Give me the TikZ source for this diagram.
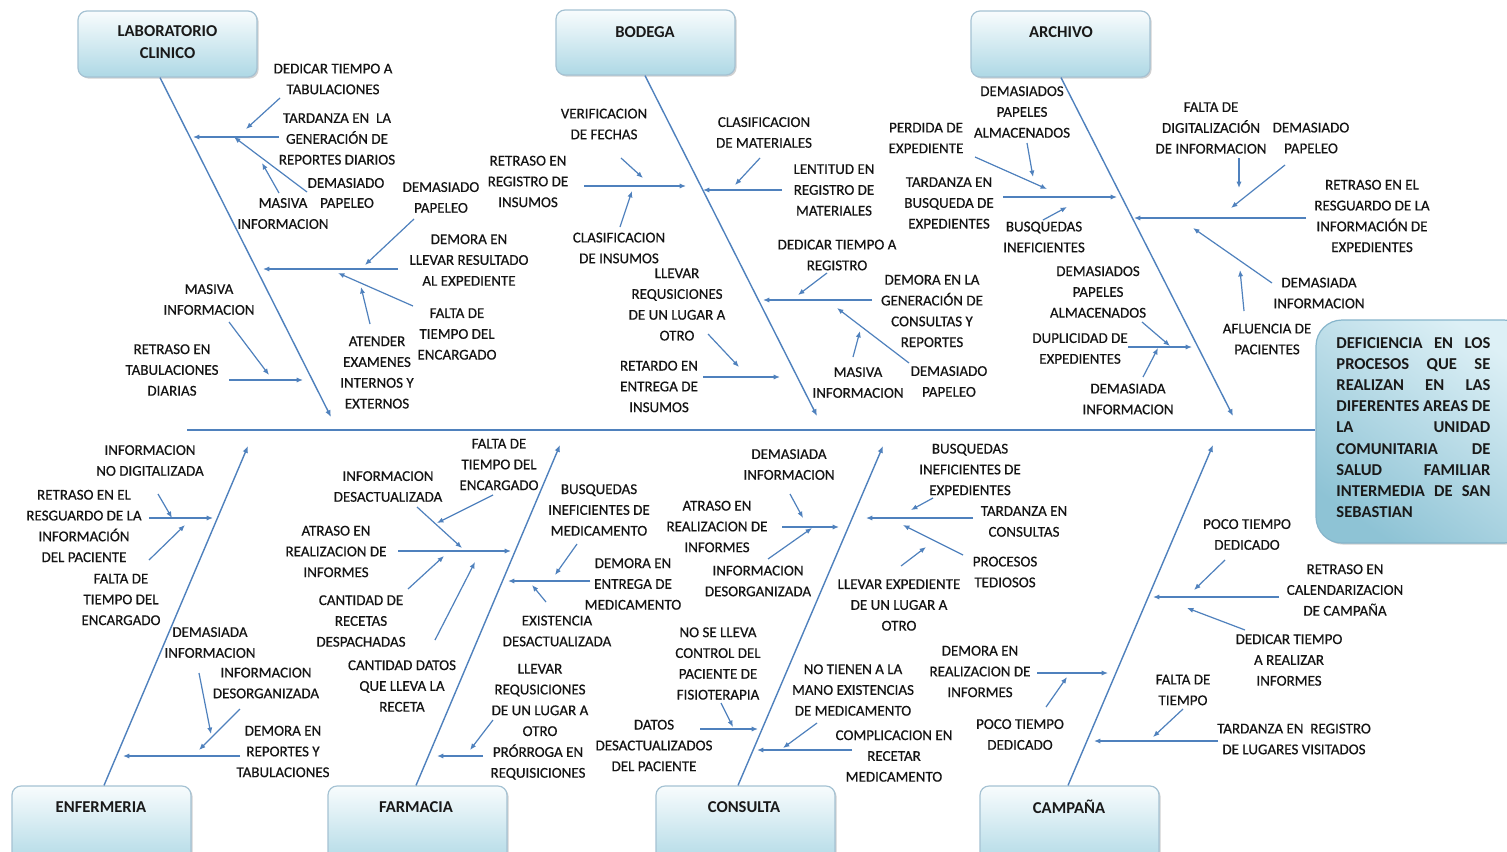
\documentclass[tikz,border=0pt]{standalone}
\usepackage{fontspec}
\setmainfont{Carlito}
\newfontfamily\lblfont[FakeBold=0.45]{Carlito}
\usetikzlibrary{arrows.meta,shadows,calc}
\definecolor{ln}{HTML}{4F81BD}
\definecolor{boxtop}{HTML}{F8FCFD}
\definecolor{boxbot}{HTML}{AED8E5}
\definecolor{boxdraw}{HTML}{A5C2D3}
\definecolor{effL}{HTML}{8EC3D5}
\definecolor{effR}{HTML}{DDF0F6}
\definecolor{effdraw}{HTML}{86B5CB}
\begin{document}
\begin{tikzpicture}[x=0.5pt,y=-0.5pt,
 lbl/.style={font=\lblfont\fontsize{7.5}{10.4}\selectfont, align=center, inner sep=0pt, text=black!92},
 ttl/.style={font=\bfseries\fontsize{8.3}{11}\selectfont, align=center, inner sep=0pt, text=black!90},
 catbox/.style={draw=boxdraw, line width=0.6pt, rounded corners=4.5pt, top color=boxtop, bottom color=boxbot,
   minimum width=89.5pt, inner sep=0pt,
   drop shadow={shadow xshift=0.8pt, shadow yshift=-0.8pt, fill=black!40, opacity=0.45}},
 arr/.style={draw=ln, line width=0.6pt, -{Latex[length=3.2pt,width=2.6pt]}},
 bone/.style={draw=ln, line width=0.7pt, -{Latex[length=3.4pt,width=2.8pt]}},
]
\useasboundingbox (0,0) rectangle (1507,851);
\clip (0,0) rectangle (1507,851);
\fill[white] (0,0) rectangle (1507,851);

% ---------- category boxes ----------
\node[catbox, minimum height=33pt] (lab) at (167.5,44) {};
\node[ttl] (labt) at (167.5,42) {LABORATORIO\\CLINICO};
\node[catbox, minimum height=32.5pt] (bod) at (645.5,42.5) {};
\node[ttl] (bodt) at (645,32) {BODEGA};
\node[catbox, minimum height=33pt] (arc) at (1060.5,44) {};
\node[ttl] (arct) at (1061,32) {ARCHIVO};

\node[catbox, minimum height=40pt] (enf) at (101.5,826) {};
\node[ttl] (enft) at (101,807) {ENFERMERIA};
\node[catbox, minimum height=40pt] (far) at (417.5,826) {};
\node[ttl] (fart) at (416,807) {FARMACIA};
\node[catbox, minimum height=40pt] (con) at (745.5,826) {};
\node[ttl] (cont) at (744,807) {CONSULTA};
\node[catbox, minimum height=40pt] (cam) at (1069.5,826) {};
\node[ttl] (camt) at (1069,807) {CAMPAÑA};

% ---------- effect box ----------
\node[draw=effdraw, line width=0.6pt, rounded corners=13pt, top color=effR, bottom color=effL, shading angle=-35,
  minimum width=107pt, minimum height=111.5pt, inner sep=0pt,
  drop shadow={shadow xshift=0.8pt, shadow yshift=-0.8pt, fill=black!40, opacity=0.45}]
  (effect) at (1423,431.5) {};
\node[font=\bfseries\fontsize{8.3}{10.56}\selectfont, align=left, inner sep=0pt, anchor=west, text=black!90]
  (efftext) at (1336,427.5) {%
  \hbox to 77pt{DEFICIENCIA\hfill EN\hfill LOS}\\
  \hbox to 77pt{PROCESOS\hfill QUE\hfill SE}\\
  \hbox to 77pt{REALIZAN\hfill EN\hfill LAS}\\
  \hbox to 77pt{DIFERENTES\hfill AREAS\hfill DE}\\
  \hbox to 77pt{LA\hfill UNIDAD}\\
  \hbox to 77pt{COMUNITARIA\hfill DE}\\
  \hbox to 77pt{SALUD\hfill FAMILIAR}\\
  \hbox to 77pt{INTERMEDIA\hfill DE\hfill SAN}\\
  \hbox to 77pt{SEBASTIAN\hfill}};

% ---------- spine and bones ----------
\coordinate (spL) at (187,430);
\coordinate (spR) at (1316,430);
\draw[draw=ln, line width=0.8pt] (spL) -- (effect.west |- spR);
\coordinate (labE) at (331,417);
\coordinate (bodE) at (817,416);
\coordinate (arcE) at (1233,416);
\coordinate (enfE) at (248,446);
\coordinate (farE) at (560,445);
\coordinate (conE) at (883,446);
\coordinate (camE) at (1213,445);
\draw[bone] ($(lab.south)+(-7.5,0)$) -- (labE);
\draw[bone] ($(bod.south)+(-0.5,0)$) -- (bodE);
\draw[bone] ($(arc.south)+(0.5,0)$) -- (arcE);
\draw[bone] ($(enf.north)+(2.5,0)$) -- (enfE);
\draw[bone] ($(far.north)+(-1.5,0)$) -- (farE);
\draw[bone] ($(con.north)+(-7.5,0)$) -- (conE);
\draw[bone] ($(cam.north)+(-1.5,0)$) -- (camE);

% ---------- LABORATORIO CLINICO ----------
\node[lbl] (l1) at (333,79) {DEDICAR TIEMPO A\\TABULACIONES};
\draw[arr] (280,98) -- (246,129);
\node[lbl] (l2) at (337,139) {TARDANZA EN\ \ LA\\GENERACIÓN DE\\REPORTES DIARIOS};
\draw[arr] (279,137) -- (193,137);
\node[lbl] (l3a) at (346,183) {DEMASIADO};
\node[lbl] (l3b) at (347,203) {PAPELEO};
\draw[arr] (307,192) -- (234,137);
\node[lbl] (l4a) at (283,203) {MASIVA};
\node[lbl] (l4b) at (283,224) {INFORMACION};
\draw[arr] (279,193) -- (262,163);
\node[lbl] (l5) at (469,260) {DEMORA EN\\LLEVAR RESULTADO\\AL EXPEDIENTE};
\draw[arr] (398,269) -- (263,269);
\node[lbl] (l6) at (441,197.5) {DEMASIADO\\PAPELEO};
\draw[arr] (414,219) -- (365,265);
\node[lbl] (l7) at (457,334) {FALTA DE\\TIEMPO DEL\\ENCARGADO};
\draw[arr] (413,306) -- (338,273);
\node[lbl] (l8) at (377,372.5) {ATENDER\\EXAMENES\\INTERNOS Y\\EXTERNOS};
\draw[arr] (370,324) -- (361,287);
\node[lbl] (l9) at (209,299.5) {MASIVA\\INFORMACION};
\draw[arr] (229,322) -- (269,375);
\node[lbl] (l10) at (172,370) {RETRASO EN\\TABULACIONES\\DIARIAS};
\draw[arr] (229,380) -- (303,380);

% ---------- BODEGA ----------
\node[lbl] (b1) at (604,124) {VERIFICACION\\DE FECHAS};
\draw[arr] (621,158) -- (643,178);
\node[lbl] (b2) at (528,181.5) {RETRASO EN\\REGISTRO DE\\INSUMOS};
\draw[arr] (584,186) -- (686,186);
\node[lbl] (b3) at (619,248) {CLASIFICACION\\DE INSUMOS};
\draw[arr] (620,227) -- (632,191);
\node[lbl] (b4) at (764,132.5) {CLASIFICACION\\DE MATERIALES};
\draw[arr] (760,158) -- (735,185);
\node[lbl] (b5) at (834,190) {LENTITUD EN\\REGISTRO DE\\MATERIALES};
\draw[arr] (782,190) -- (703,190);
\node[lbl] (b6) at (837,255) {DEDICAR TIEMPO A\\REGISTRO};
\draw[arr] (827,273) -- (798,295);
\node[lbl] (b7) at (932,311) {DEMORA EN LA\\GENERACIÓN DE\\CONSULTAS Y\\REPORTES};
\draw[arr] (872,300) -- (763,300);
\node[lbl] (b8) at (858,382.5) {MASIVA\\INFORMACION};
\draw[arr] (853,357) -- (860,331);
\node[lbl] (b9) at (949,381.5) {DEMASIADO\\PAPELEO};
\draw[arr] (909,363) -- (837,308);
\node[lbl] (b10) at (677,304.5) {LLEVAR\\REQUSICIONES\\DE UN LUGAR A\\OTRO};
\draw[arr] (708,334) -- (739,367);
\node[lbl] (b11) at (659,386.5) {RETARDO EN\\ENTREGA DE\\INSUMOS};
\draw[arr] (703,377) -- (780,377);

% ---------- ARCHIVO ----------
\node[lbl] (a1) at (926,138) {PERDIDA DE\\EXPEDIENTE};
\draw[arr] (975,157) -- (1047,189);
\node[lbl] (a2) at (1022,112) {DEMASIADOS\\PAPELES\\ALMACENADOS};
\draw[arr] (1027,143) -- (1033,177);
\node[lbl] (a3) at (949,203) {TARDANZA EN\\BUSQUEDA DE\\EXPEDIENTES};
\draw[arr] (1003,197) -- (1117,197);
\node[lbl] (a4) at (1044,237) {BUSQUEDAS\\INEFICIENTES};
\draw[arr] (1043,220) -- (1067,207);
\node[lbl] (a5) at (1372,216) {RETRASO EN EL\\RESGUARDO DE LA\\INFORMACIÓN DE\\EXPEDIENTES};
\draw[arr] (1306,218) -- (1134,218);
\node[lbl] (a6) at (1211,128) {FALTA DE\\DIGITALIZACIÓN\\DE INFORMACION};
\draw[arr] (1239,158) -- (1239,188);
\node[lbl] (a7) at (1311,138) {DEMASIADO\\PAPELEO};
\draw[arr] (1285,165) -- (1231,208);
\node[lbl] (a8) at (1319,293) {DEMASIADA\\INFORMACION};
\draw[arr] (1272,283) -- (1193,228);
\node[lbl] (a9) at (1267,339) {AFLUENCIA DE\\PACIENTES};
\draw[arr] (1244,311) -- (1240,270);
\node[lbl] (a10) at (1098,292) {DEMASIADOS\\PAPELES\\ALMACENADOS};
\draw[arr] (1142,322) -- (1170,346);
\node[lbl] (a11) at (1080,348.5) {DUPLICIDAD DE\\EXPEDIENTES};
\draw[arr] (1128,347) -- (1192,347);
\node[lbl] (a12) at (1128,399) {DEMASIADA\\INFORMACION};
\draw[arr] (1143,377) -- (1158,348);

% ---------- ENFERMERIA ----------
\node[lbl] (e1) at (150,460.5) {INFORMACION\\NO DIGITALIZADA};
\draw[arr] (158,494) -- (172,518);
\node[lbl] (e2) at (84,526) {RETRASO EN EL\\RESGUARDO DE LA\\INFORMACIÓN\\DEL PACIENTE};
\draw[arr] (149,518) -- (213,518);
\node[lbl] (e3) at (121,599.5) {FALTA DE\\TIEMPO DEL\\ENCARGADO};
\draw[arr] (149,560) -- (185,525);
\node[lbl] (e4) at (210,642.5) {DEMASIADA\\INFORMACION};
\draw[arr] (199,673) -- (211,734);
\node[lbl] (e5) at (266,683) {INFORMACION\\DESORGANIZADA};
\draw[arr] (240,709) -- (199,750);
\node[lbl] (e6) at (283,751.5) {DEMORA EN\\REPORTES Y\\TABULACIONES};
\draw[arr] (240,756) -- (123,756);

% ---------- FARMACIA ----------
\node[lbl] (f1) at (388,486.5) {INFORMACION\\DESACTUALIZADA};
\draw[arr] (417,507) -- (462,548);
\node[lbl] (f2) at (499,464.5) {FALTA DE\\TIEMPO DEL\\ENCARGADO};
\draw[arr] (493,495) -- (437,523);
\node[lbl] (f3) at (336,551.5) {ATRASO EN\\REALIZACION DE\\INFORMES};
\draw[arr] (398,551) -- (511,551);
\node[lbl] (f4) at (361,621) {CANTIDAD DE\\RECETAS\\DESPACHADAS};
\draw[arr] (408,589) -- (444,556);
\node[lbl] (f5) at (402,686) {CANTIDAD DATOS\\QUE LLEVA LA\\RECETA};
\draw[arr] (435,640) -- (475,562);
\node[lbl] (f6) at (599,510) {BUSQUEDAS\\INEFICIENTES DE\\MEDICAMENTO};
\draw[arr] (577,544) -- (555,575);
\node[lbl] (f7) at (633,584) {DEMORA EN\\ENTREGA DE\\MEDICAMENTO};
\draw[arr] (590,581) -- (508,581);
\node[lbl] (f8) at (557,631) {EXISTENCIA\\DESACTUALIZADA};
\draw[arr] (546,602) -- (532,585);
\node[lbl] (f9) at (540,700) {LLEVAR\\REQUSICIONES\\DE UN LUGAR A\\OTRO};
\draw[arr] (493,720) -- (470,750);
\node[lbl] (f10) at (538,762) {PRÓRROGA EN\\REQUISICIONES};
\draw[arr] (483,756) -- (437,756);

% ---------- CONSULTA ----------
\node[lbl] (c1) at (789,464.5) {DEMASIADA\\INFORMACION};
\draw[arr] (790,494) -- (803,518);
\node[lbl] (c2) at (717,526.5) {ATRASO EN\\REALIZACION DE\\INFORMES};
\draw[arr] (782,527) -- (839,527);
\node[lbl] (c3) at (758,581) {INFORMACION\\DESORGANIZADA};
\draw[arr] (768,559) -- (812,528);
\node[lbl] (c4) at (970,469.5) {BUSQUEDAS\\INEFICIENTES DE\\EXPEDIENTES};
\draw[arr] (933,498) -- (911,510);
\node[lbl] (c5) at (1024,521.5) {TARDANZA EN\\CONSULTAS};
\draw[arr] (973,518) -- (866,518);
\node[lbl] (c6) at (1005,572) {PROCESOS\\TEDIOSOS};
\draw[arr] (963,555) -- (903,525);
\node[lbl] (c7) at (899,605) {LLEVAR EXPEDIENTE\\DE UN LUGAR A\\OTRO};
\draw[arr] (901,566) -- (926,547);
\node[lbl] (c8) at (718,663.5) {NO SE LLEVA\\CONTROL DEL\\PACIENTE DE\\FISIOTERAPIA};
\draw[arr] (721,703) -- (733,727);
\node[lbl] (c9) at (654,745.5) {DATOS\\DESACTUALIZADOS\\DEL PACIENTE};
\draw[arr] (700,729) -- (758,729);
\node[lbl] (c10) at (853,690) {NO TIENEN A LA\\MANO EXISTENCIAS\\DE MEDICAMENTO};
\draw[arr] (817,723) -- (783,748);
\node[lbl] (c11) at (894,756) {COMPLICACION EN\\RECETAR\\MEDICAMENTO};
\draw[arr] (852,750) -- (757,750);

% ---------- CAMPAÑA ----------
\node[lbl] (k1) at (980,671.5) {DEMORA EN\\REALIZACION DE\\INFORMES};
\draw[arr] (1037,673) -- (1108,673);
\node[lbl] (k2) at (1020,734.5) {POCO TIEMPO\\DEDICADO};
\draw[arr] (1046,707) -- (1067,677);
\node[lbl] (k3) at (1247,534.5) {POCO TIEMPO\\DEDICADO};
\draw[arr] (1225,560) -- (1194,590);
\node[lbl] (k4) at (1345,590) {RETRASO EN\\CALENDARIZACION\\DE CAMPAÑA};
\draw[arr] (1279,597) -- (1153,597);
\node[lbl] (k5) at (1289,660) {DEDICAR TIEMPO\\A REALIZAR\\INFORMES};
\draw[arr] (1245,630) -- (1187,608);
\node[lbl] (k6) at (1183,690) {FALTA DE\\TIEMPO};
\draw[arr] (1183,709) -- (1153,737);
\node[lbl] (k7) at (1294,739) {TARDANZA EN\ \ REGISTRO\\DE LUGARES VISITADOS};
\draw[arr] (1218,741) -- (1094,741);
\end{tikzpicture}
\end{document}
